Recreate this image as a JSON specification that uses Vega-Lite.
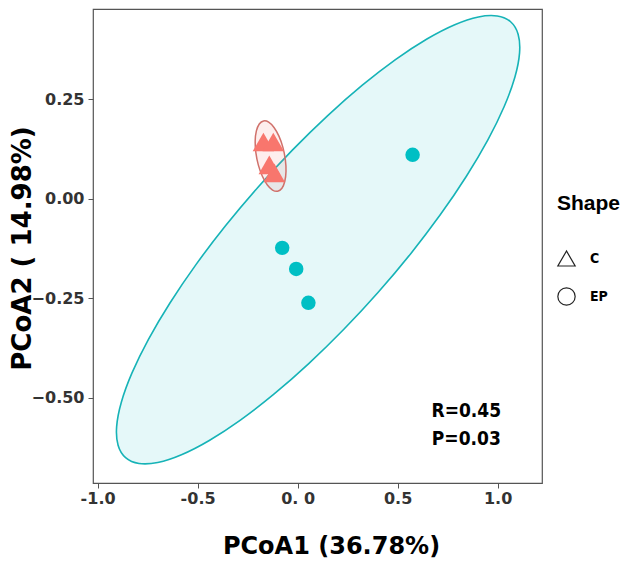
{
  "$schema": "https://vega.github.io/schema/vega-lite/v6.json",
  "width": 449,
  "height": 474,
  "padding": {"left": 93, "top": 9, "right": 84, "bottom": 81},
  "autosize": {"type": "none"},
  "background": "white",
  "datasets": {
    "ell": [
      {"group": "EP", "i": 0, "x": 1.065, "y": 0.445},
      {"group": "EP", "i": 1, "x": 1.1026, "y": 0.4138},
      {"group": "EP", "i": 2, "x": 1.1098, "y": 0.3669},
      {"group": "EP", "i": 3, "x": 1.0863, "y": 0.3056},
      {"group": "EP", "i": 4, "x": 1.033, "y": 0.2321},
      {"group": "EP", "i": 5, "x": 0.9514, "y": 0.1483},
      {"group": "EP", "i": 6, "x": 0.844, "y": 0.057},
      {"group": "EP", "i": 7, "x": 0.7141, "y": -0.0393},
      {"group": "EP", "i": 8, "x": 0.5655, "y": -0.1375},
      {"group": "EP", "i": 9, "x": 0.403, "y": -0.2345},
      {"group": "EP", "i": 10, "x": 0.2313, "y": -0.3275},
      {"group": "EP", "i": 11, "x": 0.0557, "y": -0.4137},
      {"group": "EP", "i": 12, "x": -0.1186, "y": -0.4906},
      {"group": "EP", "i": 13, "x": -0.286, "y": -0.5555},
      {"group": "EP", "i": 14, "x": -0.4416, "y": -0.6067},
      {"group": "EP", "i": 15, "x": -0.5807, "y": -0.6426},
      {"group": "EP", "i": 16, "x": -0.6992, "y": -0.6621},
      {"group": "EP", "i": 17, "x": -0.7932, "y": -0.6646},
      {"group": "EP", "i": 18, "x": -0.86, "y": -0.65},
      {"group": "EP", "i": 19, "x": -0.8976, "y": -0.6188},
      {"group": "EP", "i": 20, "x": -0.9048, "y": -0.5719},
      {"group": "EP", "i": 21, "x": -0.8813, "y": -0.5106},
      {"group": "EP", "i": 22, "x": -0.828, "y": -0.4371},
      {"group": "EP", "i": 23, "x": -0.7464, "y": -0.3533},
      {"group": "EP", "i": 24, "x": -0.639, "y": -0.262},
      {"group": "EP", "i": 25, "x": -0.5091, "y": -0.1657},
      {"group": "EP", "i": 26, "x": -0.3605, "y": -0.0675},
      {"group": "EP", "i": 27, "x": -0.198, "y": 0.0295},
      {"group": "EP", "i": 28, "x": -0.0263, "y": 0.1225},
      {"group": "EP", "i": 29, "x": 0.1493, "y": 0.2087},
      {"group": "EP", "i": 30, "x": 0.3236, "y": 0.2856},
      {"group": "EP", "i": 31, "x": 0.491, "y": 0.3505},
      {"group": "EP", "i": 32, "x": 0.6466, "y": 0.4017},
      {"group": "EP", "i": 33, "x": 0.7857, "y": 0.4376},
      {"group": "EP", "i": 34, "x": 0.9042, "y": 0.4571},
      {"group": "EP", "i": 35, "x": 0.9982, "y": 0.4596},
      {"group": "C", "i": 0, "x": -0.0997, "y": 0.0192},
      {"group": "C", "i": 1, "x": -0.0783, "y": 0.0268},
      {"group": "C", "i": 2, "x": -0.0639, "y": 0.0443},
      {"group": "C", "i": 3, "x": -0.0579, "y": 0.0692},
      {"group": "C", "i": 4, "x": -0.0613, "y": 0.0989},
      {"group": "C", "i": 5, "x": -0.0735, "y": 0.1295},
      {"group": "C", "i": 6, "x": -0.0933, "y": 0.1576},
      {"group": "C", "i": 7, "x": -0.1179, "y": 0.1795},
      {"group": "C", "i": 8, "x": -0.1447, "y": 0.1928},
      {"group": "C", "i": 9, "x": -0.1703, "y": 0.1958},
      {"group": "C", "i": 10, "x": -0.1917, "y": 0.1882},
      {"group": "C", "i": 11, "x": -0.2061, "y": 0.1707},
      {"group": "C", "i": 12, "x": -0.2121, "y": 0.1458},
      {"group": "C", "i": 13, "x": -0.2087, "y": 0.1161},
      {"group": "C", "i": 14, "x": -0.1965, "y": 0.0855},
      {"group": "C", "i": 15, "x": -0.1767, "y": 0.0574},
      {"group": "C", "i": 16, "x": -0.1521, "y": 0.0355},
      {"group": "C", "i": 17, "x": -0.1253, "y": 0.0222}
    ],
    "pts": [
      {"Shape": "C", "x": -0.171, "y": 0.143},
      {"Shape": "C", "x": -0.1215, "y": 0.143},
      {"Shape": "C", "x": -0.1415, "y": 0.0854},
      {"Shape": "C", "x": -0.1165, "y": 0.0653},
      {"Shape": "EP", "x": 0.575, "y": 0.1106},
      {"Shape": "EP", "x": -0.077, "y": -0.123},
      {"Shape": "EP", "x": -0.007, "y": -0.176},
      {"Shape": "EP", "x": 0.054, "y": -0.261}
    ],
    "txt": [
      {"label": "R=0.45", "x": 0.8435, "y": -0.533},
      {"label": "P=0.03", "x": 0.8435, "y": -0.603}
    ]
  },
  "encoding": {
    "x": {
      "field": "x", "type": "quantitative",
      "scale": {"domain": [-1.023, 1.222], "nice": false, "zero": false},
      "axis": {
        "title": "PCoA1 (36.78%)",
        "values": [-1, -0.5, 0, 0.5, 1],
        "labelExpr": "datum.value == 0 ? '0. 0' : replace(format(datum.value, '.1f'), '\u2212', '-')",
        "labelPadding": 2,
        "titleFontSize": 24,
        "titleX": 238,
        "titleY": 70,
        "titleBaseline": "alphabetic",
        "titleAlign": "center"
      }
    },
    "y": {
      "field": "y", "type": "quantitative",
      "scale": {"domain": [-0.7136, 0.477], "nice": false, "zero": false},
      "axis": {
        "title": "PCoA2 ( 14.98%)",
        "values": [-0.5, -0.25, 0, 0.25],
        "format": ".2f",
        "titleFontSize": 26,
        "titleAngle": -90,
        "titleX": -63,
        "titleY": 239,
        "titleBaseline": "alphabetic",
        "titleAlign": "center"
      }
    }
  },
  "layer": [
    {
      "data": {"name": "ell"},
      "transform": [{"filter": "datum.group == 'EP'"}],
      "mark": {"type": "line", "interpolate": "cardinal-closed", "stroke": "#16b3b7", "strokeWidth": 1.6, "fill": "#00BFC4", "fillOpacity": 0.1},
      "encoding": {"order": {"field": "i", "type": "quantitative"}}
    },
    {
      "data": {"name": "ell"},
      "transform": [{"filter": "datum.group == 'C'"}],
      "mark": {"type": "line", "interpolate": "cardinal-closed", "stroke": "#d0716b", "strokeWidth": 1.5, "fill": "#F8766D", "fillOpacity": 0.12},
      "encoding": {"order": {"field": "i", "type": "quantitative"}}
    },
    {
      "data": {"name": "pts"},
      "mark": {"type": "point", "filled": true, "opacity": 1},
      "encoding": {
        "shape": {"field": "Shape", "type": "nominal", "scale": {"domain": ["C", "EP"], "range": ["triangle-up", "circle"]},
          "legend": {
            "title": "Shape",
            "orient": "none",
            "legendX": 464,
            "legendY": 184,
            "padding": 0,
            "titleFont": "Liberation Sans",
            "titleFontSize": 21,
            "titleFontWeight": "bold",
            "titleColor": "black",
            "titlePadding": 35,
            "titleBaseline": "top",
            "labelFont": "DejaVu Sans Condensed",
            "labelFontSize": 14,
            "labelFontWeight": "bold",
            "labelColor": "black",
            "labelOffset": 14,
            "rowPadding": 16,
            "symbolSize": 300,
            "symbolFillColor": "transparent",
            "symbolStrokeColor": "#222222",
            "symbolStrokeWidth": 1.2,
            "encode": {
              "symbols": {
                "fill": {"value": "transparent"},
                "stroke": {"condition": {"test": "datum.value === 'C'", "value": "#222222"}, "value": "#c4c4c4"},
                "strokeDash": {"condition": {"test": "datum.value === 'C'", "value": [1, 0]}, "value": [2, 2]}
              }
            }
          }
        },
        "size": {"field": "Shape", "type": "nominal", "scale": {"range": [460, 210]}, "legend": null},
        "color": {"field": "Shape", "type": "nominal", "scale": {"range": ["#F8766D", "#00BFC4"]}, "legend": null}
      }
    },
    {
      "data": {"name": "txt"},
      "mark": {"type": "text", "font": "DejaVu Sans Condensed", "fontWeight": "bold", "fontSize": 19, "align": "center", "baseline": "middle", "color": "black"},
      "encoding": {"text": {"field": "label"}}
    }
  ],
  "config": {
    "view": {"stroke": "#555555", "strokeWidth": 1.2},
    "axis": {
      "grid": false,
      "domain": false,
      "ticks": true,
      "tickSize": 5,
      "tickColor": "#555555",
      "tickWidth": 1,
      "labelFont": "DejaVu Sans",
      "labelFontSize": 16,
      "labelFontWeight": "bold",
      "labelColor": "#333333",
      "labelPadding": 4,
      "titleFont": "DejaVu Sans",
      "titleFontWeight": "bold",
      "titleColor": "black"
    }
  }
}
